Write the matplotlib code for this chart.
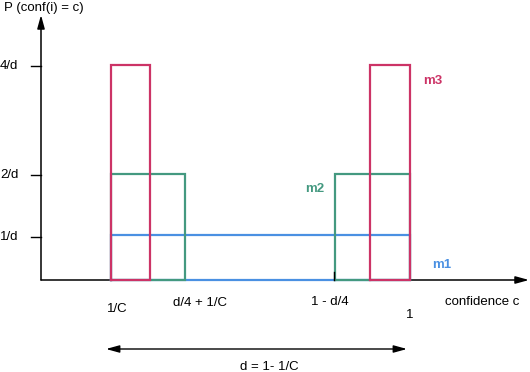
import matplotlib
matplotlib.use("Agg")
import matplotlib.pyplot as plt

plt.rcParams['font.family'] = ['Liberation Sans', 'DejaVu Sans']

# ---- data (x in confidence units with 1/C = 0.25, y in units of 1/d) ----
inv_C = 0.25
one = 1.0
d = one - inv_C
# m1: uniform over [1/C, 1]
m1_x = [inv_C, one]
m1_h = 0.84
# m2: two blocks [1/C, d/4+1/C] and [1-d/4, 1]
m2_x = [[inv_C, inv_C + d / 4], [one - d / 4, one]]
m2_h = 1.98
# m3: two narrow blocks
m3_x = [[0.25, 0.349], [0.899, 1.0]]
m3_h = 4.02

ytick_vals = [0.80, 1.96, 4.0]
ytick_labels = ["1/d", "2/d", "4/d"]
xlabels = ["1/C", "d/4 + 1/C", "1 - d/4", "1"]
series_names = ["m1", "m2", "m3"]
colors = {"m1": "#4a90e2", "m2": "#449980", "m3": "#cc3366"}

# ---- figure ----
W, H = 530, 372
fig = plt.figure(figsize=(W / 100, H / 100), dpi=100)
ax = fig.add_axes([0, 0, 1, 1])
ax.axis("off")

# pixel <-> data mapping for layout
x0_px, xs = 110.5, 299.5 / 0.75   # px of 1/C, px per unit
y0_px, ys = 280.0, 53.5           # baseline px, px per unit
def X(px):
    return inv_C + (px - x0_px) / xs
def Y(py):
    return (y0_px - py) / ys
ax.set_xlim(X(0), X(W))
ax.set_ylim(Y(H), Y(0))

lw = 1.6
def rect(l, r, h, c, z):
    ax.plot([l, l, r, r, l], [0, h, h, 0, 0], color=c, lw=lw, zorder=z,
            solid_joinstyle="miter")

# axes arrows
yax = X(41)
ax.annotate("", xy=(yax, Y(15)), xytext=(yax, 0),
            arrowprops=dict(arrowstyle="-|>,head_length=0.8,head_width=0.22",
                            color="black", lw=1.1, shrinkA=0, shrinkB=0), zorder=1)
ax.annotate("", xy=(X(529), 0), xytext=(yax, 0),
            arrowprops=dict(arrowstyle="-|>,head_length=0.8,head_width=0.22",
                            color="black", lw=1.1, shrinkA=0, shrinkB=0), zorder=1)

# y ticks
for v, lab in zip(ytick_vals, ytick_labels):
    ax.plot([X(31), yax], [v, v], color="black", lw=1.0, zorder=1)
    ax.text(X(18.5), v, lab, ha="right", va="center", fontsize=9.5)

# distributions
rect(m1_x[0], m1_x[1], m1_h, colors["m1"], 2)
for l, r in m2_x:
    rect(l, r, m2_h, colors["m2"], 3)
for l, r in m3_x:
    rect(l, r, m3_h, colors["m3"], 4)

# small marker tick at 1 - d/4
ax.plot([m2_x[1][0] - 0.002] * 2, [0, Y(272)], color="black", lw=1.0, zorder=5)

# series labels
ax.text(X(432), Y(265), "m1", color=colors["m1"], fontsize=9.5,
        fontweight="bold", ha="left", va="center")
ax.text(X(305), Y(189), "m2", color=colors["m2"], fontsize=9.5,
        fontweight="bold", ha="left", va="center")
ax.text(X(423), Y(81), "m3", color=colors["m3"], fontsize=9.5,
        fontweight="bold", ha="left", va="center")

# axis titles
ax.text(X(4), Y(8), "P (conf(i) = c)", ha="left", va="center", fontsize=9.5)
ax.text(X(445), Y(302), "confidence c", ha="left", va="center", fontsize=9.5)

# x annotations
ax.text(X(107), Y(309), xlabels[0], ha="left", va="center", fontsize=9.5)
ax.text(X(173), Y(303), xlabels[1], ha="left", va="center", fontsize=9.5)
ax.text(X(311), Y(302), xlabels[2], ha="left", va="center", fontsize=9.5)
ax.text(one, Y(315), xlabels[3], ha="center", va="center", fontsize=9.5)

# d span arrow
ax.annotate("", xy=(X(106), Y(349)), xytext=(X(407), Y(349)),
            arrowprops=dict(arrowstyle="<|-|>,head_length=0.8,head_width=0.22",
                            color="black", lw=1.0, shrinkA=0, shrinkB=0))
ax.text(X(269), Y(367), "d = 1- 1/C", ha="center", va="center", fontsize=9.5)

fig.savefig("out.png", dpi=100)
